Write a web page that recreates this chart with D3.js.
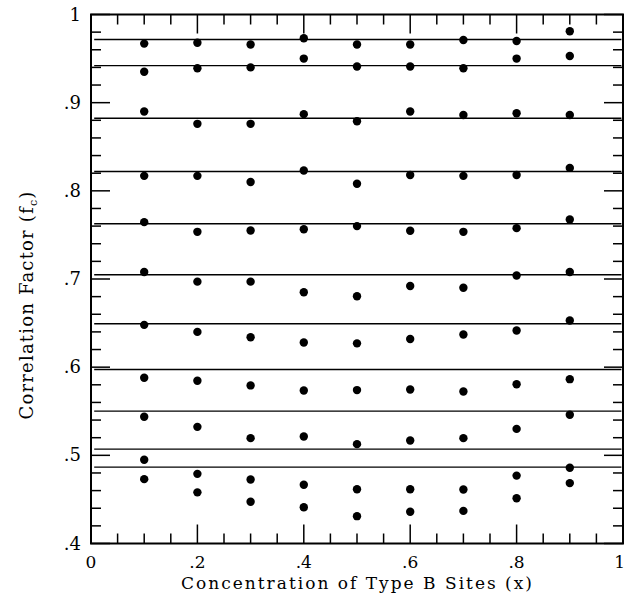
<!DOCTYPE html>
<html>
<head>
<meta charset="utf-8">
<script src="https://cdn.jsdelivr.net/npm/d3@7"></script>
<style>
  body { margin: 0; background: #fff; }
  text { font-family: "DejaVu Serif", serif; fill: #000; }
</style>
</head>
<body>
<svg width="626" height="599"></svg>
<script>
// concentration values (x) of each column of points
const conc = [0.1, 0.2, 0.3, 0.4, 0.5, 0.6, 0.7, 0.8, 0.9];

// horizontal reference lines (theoretical fc)
const refLines = [0.9716, 0.942, 0.8824, 0.822, 0.7626, 0.7048, 0.6492, 0.5974, 0.5501, 0.507, 0.4866];

// simulated fc, one list per reference line, read across x = .1 ... .9
const s1  = [0.967, 0.968, 0.966, 0.973, 0.966, 0.966, 0.971, 0.970, 0.981];
const s2  = [0.935, 0.939, 0.940, 0.950, 0.941, 0.941, 0.939, 0.950, 0.953];
const s3  = [0.890, 0.876, 0.876, 0.887, 0.879, 0.890, 0.886, 0.888, 0.886];
const s4  = [0.817, 0.817, 0.810, 0.823, 0.808, 0.818, 0.817, 0.818, 0.826];
const s5  = [0.7645, 0.7535, 0.755, 0.7565, 0.760, 0.7547, 0.7535, 0.7577, 0.7675];
const s6  = [0.708, 0.697, 0.697, 0.685, 0.6805, 0.692, 0.690, 0.704, 0.708];
const s7  = [0.648, 0.640, 0.634, 0.628, 0.627, 0.632, 0.637, 0.6416, 0.653];
const s8  = [0.588, 0.5846, 0.5793, 0.5736, 0.574, 0.5747, 0.5724, 0.5807, 0.5864];
const s9  = [0.5437, 0.5323, 0.5195, 0.5214, 0.5127, 0.5168, 0.5195, 0.530, 0.546];
const s10 = [0.495, 0.479, 0.4726, 0.4666, 0.4616, 0.4616, 0.4613, 0.477, 0.4859];
const s11 = [0.473, 0.458, 0.4473, 0.4412, 0.431, 0.436, 0.437, 0.4514, 0.4685];
const series = [s1, s2, s3, s4, s5, s6, s7, s8, s9, s10, s11];

// tick values
const xMajor = [0, 0.2, 0.4, 0.6, 0.8, 1];
const yMajor = [0.4, 0.5, 0.6, 0.7, 0.8, 0.9, 1];

const svg = d3.select("svg");
const mLeft = 91, mRight = 623, mTop = 14.5, mBottom = 543.5;

const x = d3.scaleLinear().domain([0, 1]).range([mLeft, mRight]);
const y = d3.scaleLinear().domain([0.4, 1]).range([mBottom, mTop]);

const fmt = d => (d === 0 || d === 1) ? String(d) : d3.format(".1f")(d).replace(/^0/, "");

// inner ticks on all four sides
const xMinor = d3.range(0, 1.0001, 0.05).map(v => +v.toFixed(2));
const yMinor = d3.range(0.4, 1.0001, 0.02).map(v => +v.toFixed(2));
const isMajor = (v, list) => list.some(m => Math.abs(m - v) < 1e-6);

const ticks = svg.append("g").attr("stroke", "#000").attr("stroke-width", 1.5);
xMinor.forEach(v => {
    const len = isMajor(v, xMajor) ? 19 : 10;
    ticks.append("line").attr("x1", x(v)).attr("x2", x(v)).attr("y1", mBottom).attr("y2", mBottom - len);
    ticks.append("line").attr("x1", x(v)).attr("x2", x(v)).attr("y1", mTop).attr("y2", mTop + len);
});
yMinor.forEach(v => {
    const len = isMajor(v, yMajor) ? 19 : 10;
    ticks.append("line").attr("x1", mLeft).attr("x2", mLeft + len).attr("y1", y(v)).attr("y2", y(v));
    ticks.append("line").attr("x1", mRight).attr("x2", mRight - len).attr("y1", y(v)).attr("y2", y(v));
});

// reference lines
svg.append("g")
    .selectAll("line")
    .data(refLines)
    .join("line")
    .attr("x1", x(0.006))
    .attr("x2", x(0.997))
    .attr("y1", d => y(d))
    .attr("y2", d => y(d))
    .attr("stroke", "#000")
    .attr("stroke-width", 1.4);

// points
const pts = [];
series.forEach(s => s.forEach((v, i) => pts.push({ x: conc[i], y: v })));
svg.append("g")
    .selectAll("circle")
    .data(pts)
    .join("circle")
    .attr("cx", d => x(d.x))
    .attr("cy", d => y(d.y))
    .attr("r", 4.2)
    .attr("fill", "#000");

// frame
svg.append("rect")
    .attr("x", mLeft).attr("y", mTop)
    .attr("width", mRight - mLeft).attr("height", mBottom - mTop)
    .attr("fill", "none").attr("stroke", "#000").attr("stroke-width", 2);

// tick labels
svg.append("g")
    .selectAll("text")
    .data(xMajor)
    .join("text")
    .attr("x", d => d === 1 ? 625 : x(d))
    .attr("y", mBottom + 24)
    .attr("text-anchor", d => d === 1 ? "end" : "middle")
    .style("font-size", "17px")
    .text(fmt);

svg.append("g")
    .selectAll("text")
    .data(yMajor)
    .join("text")
    .attr("x", mLeft - 10)
    .attr("y", d => y(d) + 6)
    .attr("text-anchor", "end")
    .style("font-size", "18px")
    .text(fmt);

// axis titles
svg.append("text")
    .attr("x", 181)
    .attr("y", 589)
    .attr("textLength", 351)
    .attr("lengthAdjust", "spacing")
    .style("font-size", "17px")
    .text("Concentration of Type B Sites (x)");

const yt = svg.append("text")
    .attr("transform", "translate(33,305) rotate(-90)")
    .attr("text-anchor", "middle")
    .style("font-size", "18px")
    .style("letter-spacing", "1.2px");
yt.append("tspan").text("Correlation Factor (f");
yt.append("tspan").attr("dy", 4).style("font-size", "11px").text("c");
yt.append("tspan").attr("dy", -4).text(")");
</script>
</body>
</html>
